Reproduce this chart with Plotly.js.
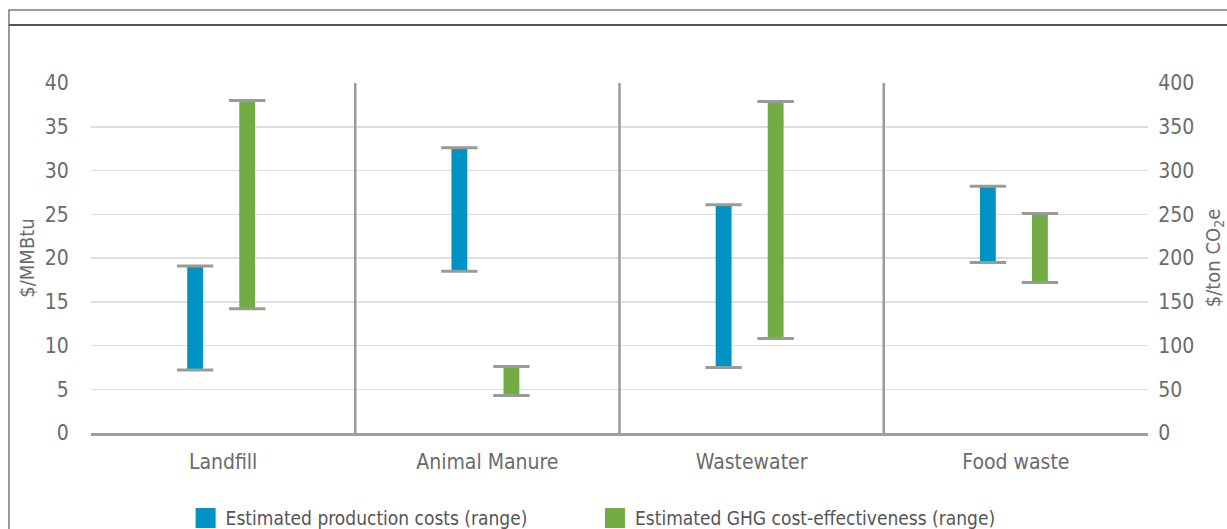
<!DOCTYPE html>
<html>
<head>
<meta charset="utf-8">
<script src="https://cdn.plot.ly/plotly-3.0.1.min.js"></script>
<style>
  html, body { margin: 0; padding: 0; background: #fff; }
  #chart { width: 1227px; height: 529px; }
</style>
</head>
<body>
<div id="chart"></div>
<script>
// Data
const categories = ["Landfill", "Animal Manure", "Wastewater", "Food waste"];
const prodLow  = [7.2, 18.5, 7.5, 19.5];     // $/MMBtu
const prodHigh = [19.1, 32.6, 26.1, 28.2];   // $/MMBtu
const ghgLow   = [142, 43, 108, 172];        // $/ton CO2e
const ghgHigh  = [380, 76, 379, 251];        // $/ton CO2e
const leftTicks  = [0, 5, 10, 15, 20, 25, 30, 35, 40];
const rightTicks = [0, 50, 100, 150, 200, 250, 300, 350, 400];
const seriesNames = ["Estimated production costs (range)", "Estimated GHG cost-effectiveness (range)"];

// Styles
const FONT = "'DejaVu Sans Condensed', 'DejaVu Sans', sans-serif";
const TXT = "#6b6b6b";
const BLUE = "#0092c2";
const GREEN = "#72ac45";
const CAP = "#9b9b95";
const barW = 0.06;
const blueOff = -0.106, greenOff = 0.091;

const idx = categories.map((_, i) => i);
const xBlue = idx.map(i => i + blueOff);
const xGreen = idx.map(i => i + greenOff);

const traces = [
  {
    type: "bar", x: xBlue, base: prodLow,
    y: prodHigh.map((h, i) => h - prodLow[i]),
    width: barW, marker: {color: BLUE}, showlegend: false, hoverinfo: "skip"
  },
  {
    type: "bar", x: xGreen, base: ghgLow,
    y: ghgHigh.map((h, i) => h - ghgLow[i]),
    width: barW, marker: {color: GREEN}, yaxis: "y2", showlegend: false, hoverinfo: "skip"
  },
  {
    type: "scatter", mode: "markers",
    x: xBlue.concat(xBlue), y: prodLow.concat(prodHigh),
    marker: {symbol: "line-ew", size: 26, line: {width: 3, color: CAP}},
    showlegend: false, hoverinfo: "skip", cliponaxis: false
  },
  {
    type: "scatter", mode: "markers", yaxis: "y2",
    x: xGreen.concat(xGreen), y: ghgLow.concat(ghgHigh),
    marker: {symbol: "line-ew", size: 26, line: {width: 3, color: CAP}},
    showlegend: false, hoverinfo: "skip", cliponaxis: false
  },
  {
    type: "scatter", mode: "markers", x: [null], y: [null], name: seriesNames[0],
    legend: "legend",
    marker: {symbol: "square", size: 16, color: BLUE, line: {width: 4, color: BLUE}}
  },
  {
    type: "scatter", mode: "markers", x: [null], y: [null], name: seriesNames[1],
    legend: "legend2",
    marker: {symbol: "square", size: 16, color: GREEN, line: {width: 4, color: GREEN}}
  }
];

const dividers = [0.5, 1.5, 2.5].map(x => ({
  type: "line", xref: "x", yref: "y", x0: x, x1: x, y0: 0, y1: 40,
  line: {color: "#9a9a9a", width: 2.5}, layer: "above"
}));

const legendBase = {
  orientation: "h", xanchor: "left", y: -0.243, yanchor: "middle",
  font: {size: 19, color: "#555555"}, itemsizing: "trace", bgcolor: "rgba(0,0,0,0)"
};

const layout = {
  width: 1227, height: 529,
  margin: {l: 91, r: 79, t: 83, b: 96, pad: 0, autoexpand: false},
  paper_bgcolor: "#ffffff", plot_bgcolor: "#ffffff",
  font: {family: FONT, color: TXT, size: 20},
  showlegend: true,
  legend: Object.assign({x: 0.0895}, legendBase),
  legend2: Object.assign({x: 0.4768}, legendBase),
  xaxis: {
    range: [-0.5, 3.5], tickmode: "array", tickvals: idx, ticktext: categories,
    showgrid: false, zeroline: false, showline: true, linecolor: "#9e9e9e", linewidth: 3,
    ticks: "outside", ticklen: 8, tickcolor: "rgba(0,0,0,0)",
    tickfont: {size: 21, color: TXT}, fixedrange: true, automargin: false
  },
  yaxis: {
    range: [0, 40], tickmode: "array", tickvals: leftTicks,
    showgrid: true, gridcolor: "#dedede", gridwidth: 1.5, zeroline: false,
    ticks: "outside", ticklen: 17, tickcolor: "rgba(0,0,0,0)",
    tickfont: {size: 21, color: TXT},
    title: {text: "$/MMBtu", font: {size: 20, color: TXT}, standoff: 4},
    fixedrange: true, automargin: false
  },
  yaxis2: {
    range: [0, 400], tickmode: "array", tickvals: rightTicks,
    overlaying: "y", side: "right", showgrid: false, zeroline: false,
    ticks: "outside", ticklen: 5, tickcolor: "rgba(0,0,0,0)",
    tickfont: {size: 21, color: TXT},
    title: {text: "$/ton CO<sub>2</sub>e", font: {size: 20, color: TXT}, standoff: 18},
    fixedrange: true, automargin: false
  },
  shapes: [
    {type: "rect", xref: "paper", yref: "paper", x0: -0.0776, x1: 1.2, y0: -0.5, y1: 1.2086,
     line: {color: "#7a7a7a", width: 1.5}, fillcolor: "rgba(0,0,0,0)", layer: "below"},
    {type: "line", xref: "paper", yref: "paper", x0: -0.0776, x1: 1.2, y0: 1.1657, y1: 1.1657,
     line: {color: "#555555", width: 2}}
  ].concat(dividers)
};

Plotly.newPlot("chart", traces, layout, {displayModeBar: false, staticPlot: true});
</script>
</body>
</html>
